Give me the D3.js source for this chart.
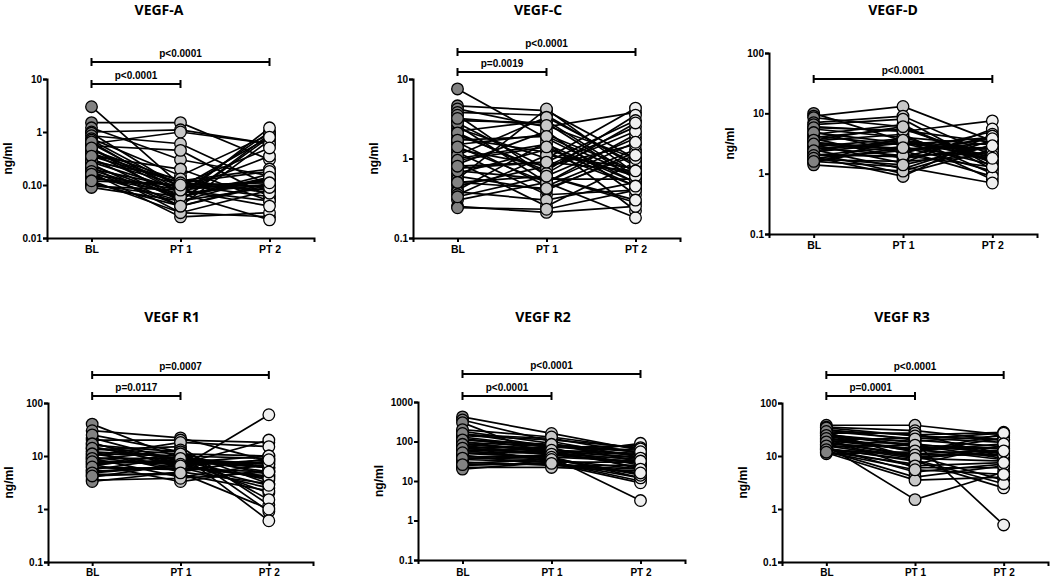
<!DOCTYPE html>
<html>
<head>
<meta charset="utf-8">
<script src="https://cdn.jsdelivr.net/npm/d3@7"></script>
<style>
  body { margin: 0; background: #fff; }
  svg { display: block; }
  .tick text { font-family: "Liberation Sans", Arial, sans-serif; font-weight: bold; font-size: 10px; fill: #000; }
</style>
</head>
<body>
<script>
// categories / time points
var cats = ["BL", "PT 1", "PT 2"];
var titles = ["VEGF-A", "VEGF-C", "VEGF-D", "VEGF R1", "VEGF R2", "VEGF R3"];
var pLabels = [
  ["p<0.0001", "p<0.0001"],
  ["p<0.0001", "p=0.0019"],
  ["p<0.0001"],
  ["p=0.0007", "p=0.0117"],
  ["p<0.0001", "p<0.0001"],
  ["p<0.0001", "p=0.0001"]
];

// ng/ml per patient
var vegfA_BL  = [3.0, 1.5, 1.2, 1.0, 0.95, 0.85, 0.75, 0.6, 0.55, 0.5, 0.45, 0.4, 0.35, 0.32, 0.3, 0.27, 0.25, 0.22, 0.2, 0.19, 0.17, 0.15, 0.14, 0.13, 0.12, 0.11, 0.1, 0.095, 0.09, 0.6, 0.4, 0.28, 0.7, 0.65, 0.5, 0.35, 0.23, 0.18, 0.16, 0.12];
var vegfA_PT1 = [0.1, 1.5, 0.3, 1.1, 0.09, 0.6, 0.15, 0.08, 0.45, 0.07, 0.12, 0.06, 0.2, 0.05, 0.1, 0.08, 0.04, 0.03, 0.09, 0.06, 0.025, 0.05, 0.07, 0.1, 0.03, 0.04, 0.06, 0.08, 0.05, 1.0, 0.11, 0.13, 0.09, 0.07, 0.05, 0.11, 0.06, 0.04, 0.08, 0.1];
var vegfA_PT2 = [0.08, 0.3, 0.15, 0.6, 0.8, 0.1, 0.9, 0.12, 0.06, 1.0, 0.2, 0.13, 0.05, 0.9, 0.11, 0.35, 0.7, 0.025, 0.1, 1.2, 0.03, 0.14, 0.022, 0.06, 0.08, 0.1, 0.16, 0.05, 0.09, 0.6, 0.18, 0.07, 0.12, 0.1, 0.8, 0.09, 0.14, 0.11, 0.04, 0.5];

var vegfC_BL  = [7.5, 4.6, 4.2, 3.8, 3.5, 3.0, 2.6, 2.4, 2.2, 2.0, 1.8, 1.6, 1.5, 1.3, 1.2, 1.0, 0.9, 0.85, 0.75, 0.65, 0.6, 0.55, 0.5, 0.45, 0.4, 0.38, 0.35, 0.3, 0.25, 0.24, 2.8, 1.1, 0.7, 3.2, 2.1, 1.7, 1.4, 0.95, 0.8, 0.5, 0.33];
var vegfC_PT1 = [1.8, 4.0, 2.5, 3.5, 0.6, 2.8, 0.5, 1.0, 3.0, 0.7, 1.2, 0.45, 2.0, 0.8, 0.35, 1.5, 0.25, 2.2, 0.9, 1.3, 0.4, 4.2, 0.6, 0.8, 1.6, 0.3, 1.1, 0.5, 0.21, 0.23, 0.75, 3.3, 0.55, 2.6, 0.65, 1.9, 0.5, 1.4, 0.9, 0.42, 0.6];
var vegfC_PT2 = [0.5, 1.0, 3.8, 0.8, 1.8, 0.55, 2.0, 4.3, 0.6, 3.5, 0.45, 1.3, 0.7, 2.5, 0.4, 0.5, 0.9, 0.35, 3.0, 0.6, 1.2, 0.65, 0.28, 1.5, 0.22, 0.5, 0.75, 0.18, 0.25, 0.4, 2.2, 0.85, 0.55, 1.0, 2.8, 0.6, 1.6, 0.45, 0.7, 1.1, 0.3];

var vegfD_BL  = [10, 9, 8.5, 7, 6, 5.5, 5, 4.5, 4.2, 4, 3.8, 3.5, 3.2, 3, 2.8, 2.7, 2.5, 2.3, 2.2, 2.0, 1.9, 1.8, 1.7, 1.6, 1.5, 1.4, 6.5, 3.3, 2.6, 2.1, 5.8, 4.8, 3.6, 3.1, 2.4, 2.0, 1.8, 1.6];
var vegfD_PT1 = [3.5, 13, 6, 9, 5, 4, 2.2, 6.5, 3, 5.5, 1.8, 4.5, 2.5, 1.5, 3.8, 2, 1.2, 3.2, 1.0, 2.8, 0.9, 2.4, 1.6, 1.3, 4, 1.1, 8, 2.6, 3.3, 1.9, 5.2, 3.2, 6, 2.3, 3.6, 2.0, 1.4, 2.7];
var vegfD_PT2 = [2.5, 3.5, 1.5, 2.0, 7.5, 3, 5, 1.2, 4, 1.8, 2.8, 1.0, 3.2, 5.5, 0.8, 2.2, 3.6, 1.4, 2.5, 1.1, 4.5, 0.9, 2.0, 0.7, 1.6, 3.0, 1.3, 2.7, 1.9, 4.2, 3.3, 2.4, 1.6, 3.8, 2.0, 1.3, 2.9, 1.8];

var r1_BL  = [40, 30, 22, 20, 18, 16, 15, 14, 13, 12, 11, 10, 9.5, 9, 8.5, 8, 7.5, 7, 6.5, 6, 5.5, 5, 4.5, 4, 3.5, 3.3, 25, 12, 7, 5.2, 17, 14, 11, 9, 7.8, 6.2, 4.8, 4.2];
var r1_PT1 = [9, 22, 8, 20, 6, 12, 7, 9, 15, 5, 10, 18, 6, 4, 13, 7.5, 8, 3.3, 11, 5.5, 9.5, 6.5, 4.5, 7, 3.8, 5, 12, 10, 8.5, 6, 8, 11, 6.5, 9, 7, 5.8, 6.5, 4.8];
var r1_PT2 = [5, 8, 2, 18, 60, 3, 20, 6, 1.2, 9, 4.5, 15, 2.5, 7, 0.9, 10, 3.5, 5.5, 0.6, 8, 6, 4, 2.2, 7.5, 5, 3, 1.5, 9, 6.5, 4.2, 6, 10, 3.8, 7, 2.8, 5, 8.5, 1.0];

var r2_BL  = [420, 350, 300, 180, 150, 130, 120, 110, 100, 95, 90, 85, 80, 75, 70, 65, 60, 55, 50, 45, 40, 35, 30, 28, 25, 22, 20, 140, 60, 42, 200, 160, 110, 85, 68, 52, 38, 26];
var r2_PT1 = [160, 100, 40, 90, 120, 70, 60, 80, 50, 75, 55, 65, 45, 30, 70, 60, 35, 50, 40, 25, 45, 30, 25, 35, 28, 22, 30, 110, 55, 38, 130, 75, 85, 60, 48, 40, 35, 28];
var r2_PT2 = [60, 40, 3.2, 30, 50, 80, 45, 60, 35, 55, 40, 25, 90, 30, 20, 50, 15, 35, 12, 25, 30, 10, 20, 15, 9, 18, 12, 70, 22, 14, 65, 45, 55, 38, 28, 32, 20, 16];

var r3_BL  = [38, 35, 32, 30, 28, 26, 25, 24, 22, 21, 20, 19, 18, 17, 16, 15, 14.5, 14, 13, 12.5, 12, 11.5, 11, 27, 23, 19.5, 16.5, 13.5, 34, 29, 24.5, 21.5, 18.5, 15.5, 13.2, 11.8];
var r3_PT1 = [38, 30, 20, 25, 9, 15, 18, 12, 13, 6, 22, 17, 10, 14, 1.5, 16, 5, 8, 11, 4, 7, 3.5, 12, 27, 19, 13.5, 9.5, 8.5, 24, 21, 16, 12.5, 10.5, 9, 6.5, 5.5];
var r3_PT2 = [25, 20, 15, 28, 8, 12, 0.5, 22, 10, 6, 18, 11, 3.5, 14, 5, 9, 7, 2.5, 13, 6.5, 16, 4, 26, 9.5, 24, 8.5, 12, 3, 20, 27, 14, 17, 10.5, 12.5, 7.5, 4.5];

var ticksA = [0.01, 0.1, 1, 10];
var tickLabelsA = ["0.01", "0.10", "1", "10"];

var fills = ["#828282", "#c8c8c8", "#f0f0f0"];

// layout of the six panels (pixels)
var panels = [
  { series: [vegfA_BL, vegfA_PT1, vegfA_PT2], dom: [0.01, 10], left: 47, right: 314, top: 79, bottom: 238, tx: 159, ty: 15, lp: 4, br: [[0, 2, 62], [0, 1, 84]] },
  { series: [vegfC_BL, vegfC_PT1, vegfC_PT2], dom: [0.1, 10], left: 413, right: 680, top: 79, bottom: 238, tx: 538, ty: 15, lp: 4, br: [[0, 2, 52], [0, 1, 72]] },
  { series: [vegfD_BL, vegfD_PT1, vegfD_PT2], dom: [0.1, 100], left: 769, right: 1037, top: 53, bottom: 234, tx: 893, ty: 15, lp: 4, br: [[0, 2, 79]] },
  { series: [r1_BL, r1_PT1, r1_PT2], dom: [0.1, 100], left: 48, right: 313, top: 403, bottom: 562, tx: 172, ty: 322, lp: 2.5, br: [[0, 2, 375], [0, 1, 396]] },
  { series: [r2_BL, r2_PT1, r2_PT2], dom: [0.1, 1000], left: 418, right: 685, top: 402, bottom: 560, tx: 543, ty: 322, lp: 4.5, br: [[0, 2, 374], [0, 1, 396]] },
  { series: [r3_BL, r3_PT1, r3_PT2], dom: [0.1, 100], left: 782, right: 1048, top: 403, bottom: 562, tx: 902, ty: 322, lp: 2.5, br: [[0, 2, 375], [0, 1, 396]] }
];

var svg = d3.select("body").append("svg").attr("width", 1050).attr("height", 577);

panels.forEach(function(p, k) {
  var g = svg.append("g");
  var x = d3.scalePoint().domain(cats).range([p.left, p.right]).padding(0.5);
  var y = d3.scaleLog().domain(p.dom).range([p.bottom, p.top]);

  // patient lines
  var n = p.series[0].length;
  var rows = d3.range(n).map(function(i) {
    return cats.map(function(c, j) { return [c, p.series[j][i]]; });
  });
  var line = d3.line().x(function(d) { return x(d[0]); }).y(function(d) { return y(d[1]); });
  g.selectAll("path.pt").data(rows).enter().append("path")
    .attr("class", "pt")
    .attr("d", line)
    .attr("fill", "none")
    .attr("stroke", "#000")
    .attr("stroke-width", 1.7);

  // dots
  cats.forEach(function(c, j) {
    g.selectAll("circle.c" + j).data(p.series[j]).enter().append("circle")
      .attr("class", "c" + j)
      .attr("cx", x(c))
      .attr("cy", function(d) { return y(d); })
      .attr("r", 5.8)
      .attr("fill", fills[j])
      .attr("stroke", "#000")
      .attr("stroke-width", 1.3);
  });

  // axes
  var tv = k === 0 ? ticksA : d3.range(Math.round(Math.log10(p.dom[0])), Math.round(Math.log10(p.dom[1])) + 1).map(function(e) { return Math.pow(10, e); });
  var yAxis = d3.axisLeft(y).tickValues(tv).tickSizeOuter(0).tickSize(4).tickPadding(1)
    .tickFormat(function(d, i) { return k === 0 ? tickLabelsA[i] : d3.format("")(+d.toPrecision(1)); });
  var ya = g.append("g").attr("transform", "translate(" + p.left + ",0)").call(yAxis);
  ya.selectAll("path, line").attr("stroke", "#000").attr("stroke-width", 2);

  var xAxis = d3.axisBottom(x).tickSizeOuter(0).tickSize(4).tickPadding(p.lp);
  var xa = g.append("g").attr("transform", "translate(0," + p.bottom + ")").call(xAxis);
  xa.selectAll("path, line").attr("stroke", "#000").attr("stroke-width", 2);
  xa.selectAll("text").style("font-size", k < 3 ? "10.5px" : "10px");

  // y label
  g.append("text")
    .attr("transform", "translate(" + (p.left - 35) + "," + ((p.top + p.bottom) / 2) + ") rotate(-90)")
    .attr("text-anchor", "middle")
    .attr("font-family", "Liberation Sans, Arial, sans-serif")
    .attr("font-weight", "bold")
    .attr("font-size", "12px")
    .text("ng/ml");

  // title
  g.append("text")
    .attr("x", p.tx).attr("y", p.ty)
    .attr("text-anchor", "middle")
    .attr("font-family", "Open Sans, sans-serif")
    .attr("font-weight", "bold")
    .attr("font-size", "14px")
    .text(titles[k]);

  // significance brackets
  p.br.forEach(function(b, bi) {
    var x0 = x(cats[b[0]]), x1 = x(cats[b[1]]), yy = b[2];
    var bg = g.append("g").attr("stroke", "#000").attr("stroke-width", 2);
    bg.append("line").attr("x1", x0).attr("x2", x1).attr("y1", yy).attr("y2", yy);
    bg.append("line").attr("x1", x0).attr("x2", x0).attr("y1", yy - 4).attr("y2", yy + 4);
    bg.append("line").attr("x1", x1).attr("x2", x1).attr("y1", yy - 4).attr("y2", yy + 4);
    g.append("text")
      .attr("x", (x0 + x1) / 2).attr("y", yy - 5)
      .attr("text-anchor", "middle")
      .attr("font-family", "Liberation Sans, Arial, sans-serif")
      .attr("font-weight", "bold")
      .attr("font-size", "10px")
      .text(pLabels[k][bi]);
  });
});
</script>
</body>
</html>
